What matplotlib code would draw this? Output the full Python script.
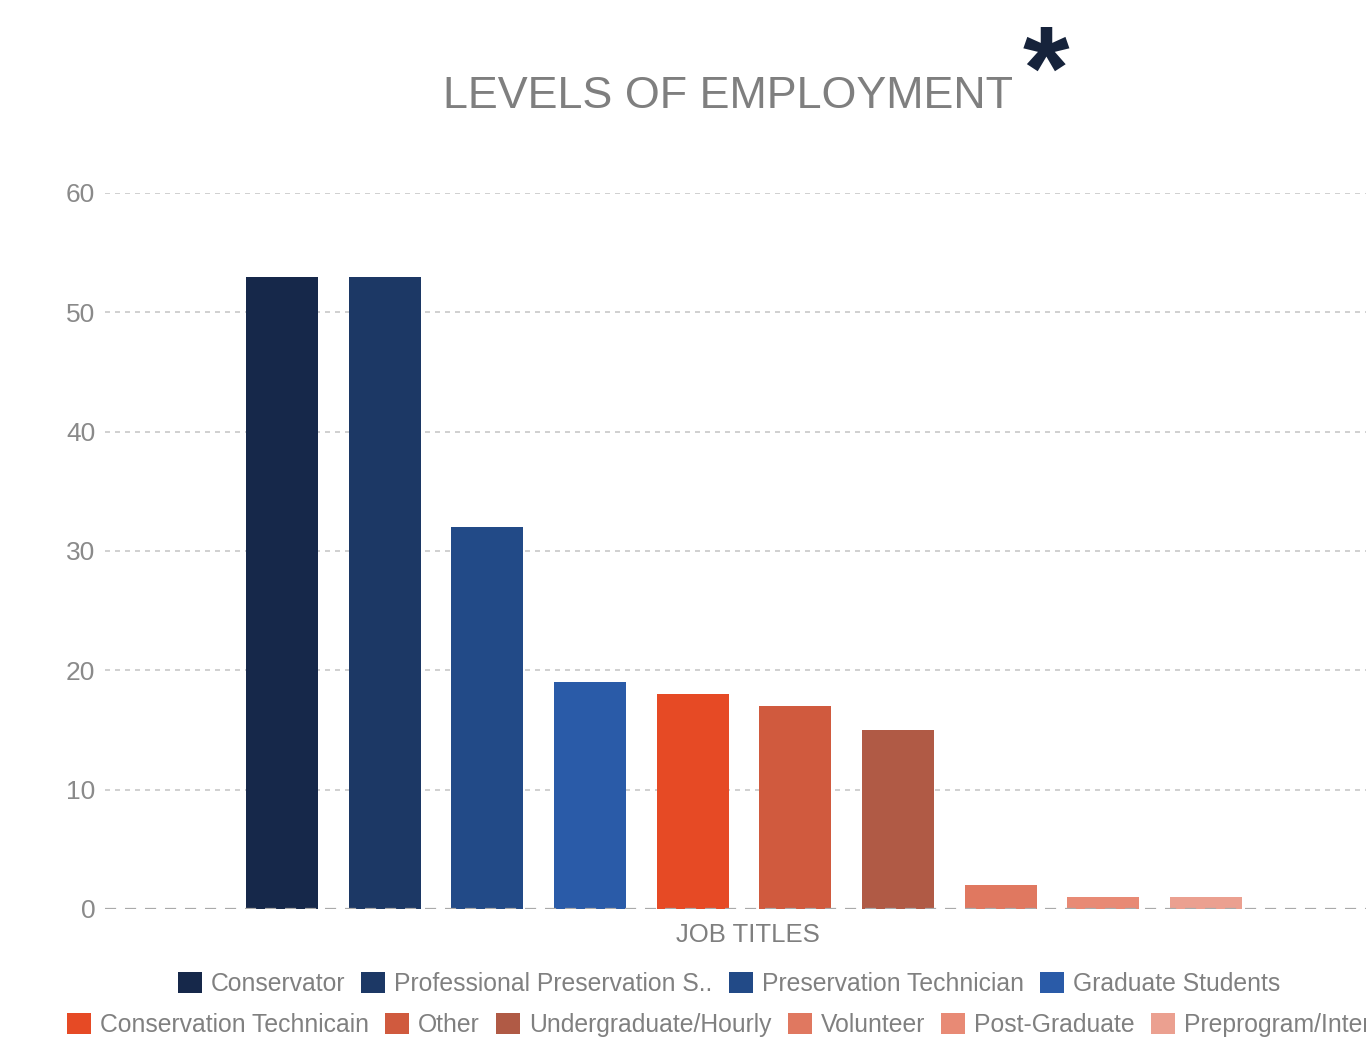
import matplotlib.pyplot as plt
from matplotlib.patches import Patch

plt.rcParams['font.family'] = ['Liberation Sans', 'DejaVu Sans']

# Data
job_titles = ['Conservator', 'Professional Preservation S..', 'Preservation Technician',
              'Graduate Students', 'Conservation Technicain', 'Other',
              'Undergraduate/Hourly', 'Volunteer', 'Post-Graduate', 'Preprogram/Intern']
counts = [53, 53, 32, 19, 18, 17, 15, 2, 1, 1]
bar_colors = ['#16284a', '#1c3865', '#224a87', '#2a5ba8', '#e64a25',
              '#d05a3e', '#b05a45', '#e07860', '#e88a75', '#eba090']
y_ticks = [0, 10, 20, 30, 40, 50, 60]

fig = plt.figure(figsize=(13.66, 10.46), dpi=100)
ax = fig.add_axes([105/1366, 1 - 909/1046, 1 - 105/1366, (909 - 193)/1046])

x = list(range(len(counts)))
ax.bar(x, counts, width=0.70, color=bar_colors, zorder=2)

ax.set_ylim(0, 60)
ax.set_xlim(-1.725, 10.56)
ax.set_yticks(y_ticks)
ax.set_xticks([])
for t in y_ticks[1:]:
    ax.axhline(t, color='#c8c8c8', lw=1.2, ls=(0, (3, 3)), zorder=1)
ax.axhline(0, color='#aaaaaa', lw=1.6, ls=(0, (5, 4)), zorder=3)
for s in ax.spines.values():
    s.set_visible(False)
ax.tick_params(axis='y', length=0, labelsize=19, labelcolor='#8a8a8a', pad=7)

# Title and asterisk
fig.text(728/1366, 1 - 97/1046, 'LEVELS OF EMPLOYMENT', ha='center', va='center',
         fontsize=32.3, color='#7f7f7f')
fig.text(1046/1366, 1 - 78/1046, '*', ha='center', va='center',
         fontsize=86, fontweight='bold', color='#16233b')

# x axis title
fig.text(748/1366, 1 - 935/1046, 'JOB TITLES', ha='center', va='center',
         fontsize=18.5, color='#7f7f7f')

# Legend in two rows
handles = [Patch(facecolor=c, edgecolor='none') for c in bar_colors]
leg_kw = dict(frameon=False, fontsize=17.8, handlelength=0.97, handleheight=0.97,
              handletextpad=0.36, columnspacing=0.66, borderpad=0, borderaxespad=0,
              labelcolor='#808080')
leg1 = fig.legend(handles[:4], job_titles[:4], ncol=4, loc='center',
                  bbox_to_anchor=(729/1366, 1 - 984/1046), **leg_kw)
leg2 = fig.legend(handles[4:], job_titles[4:], ncol=6, loc='center left',
                  bbox_to_anchor=(67/1366, 1 - 1025/1046), **leg_kw)

fig.savefig('out.png', dpi=100)
